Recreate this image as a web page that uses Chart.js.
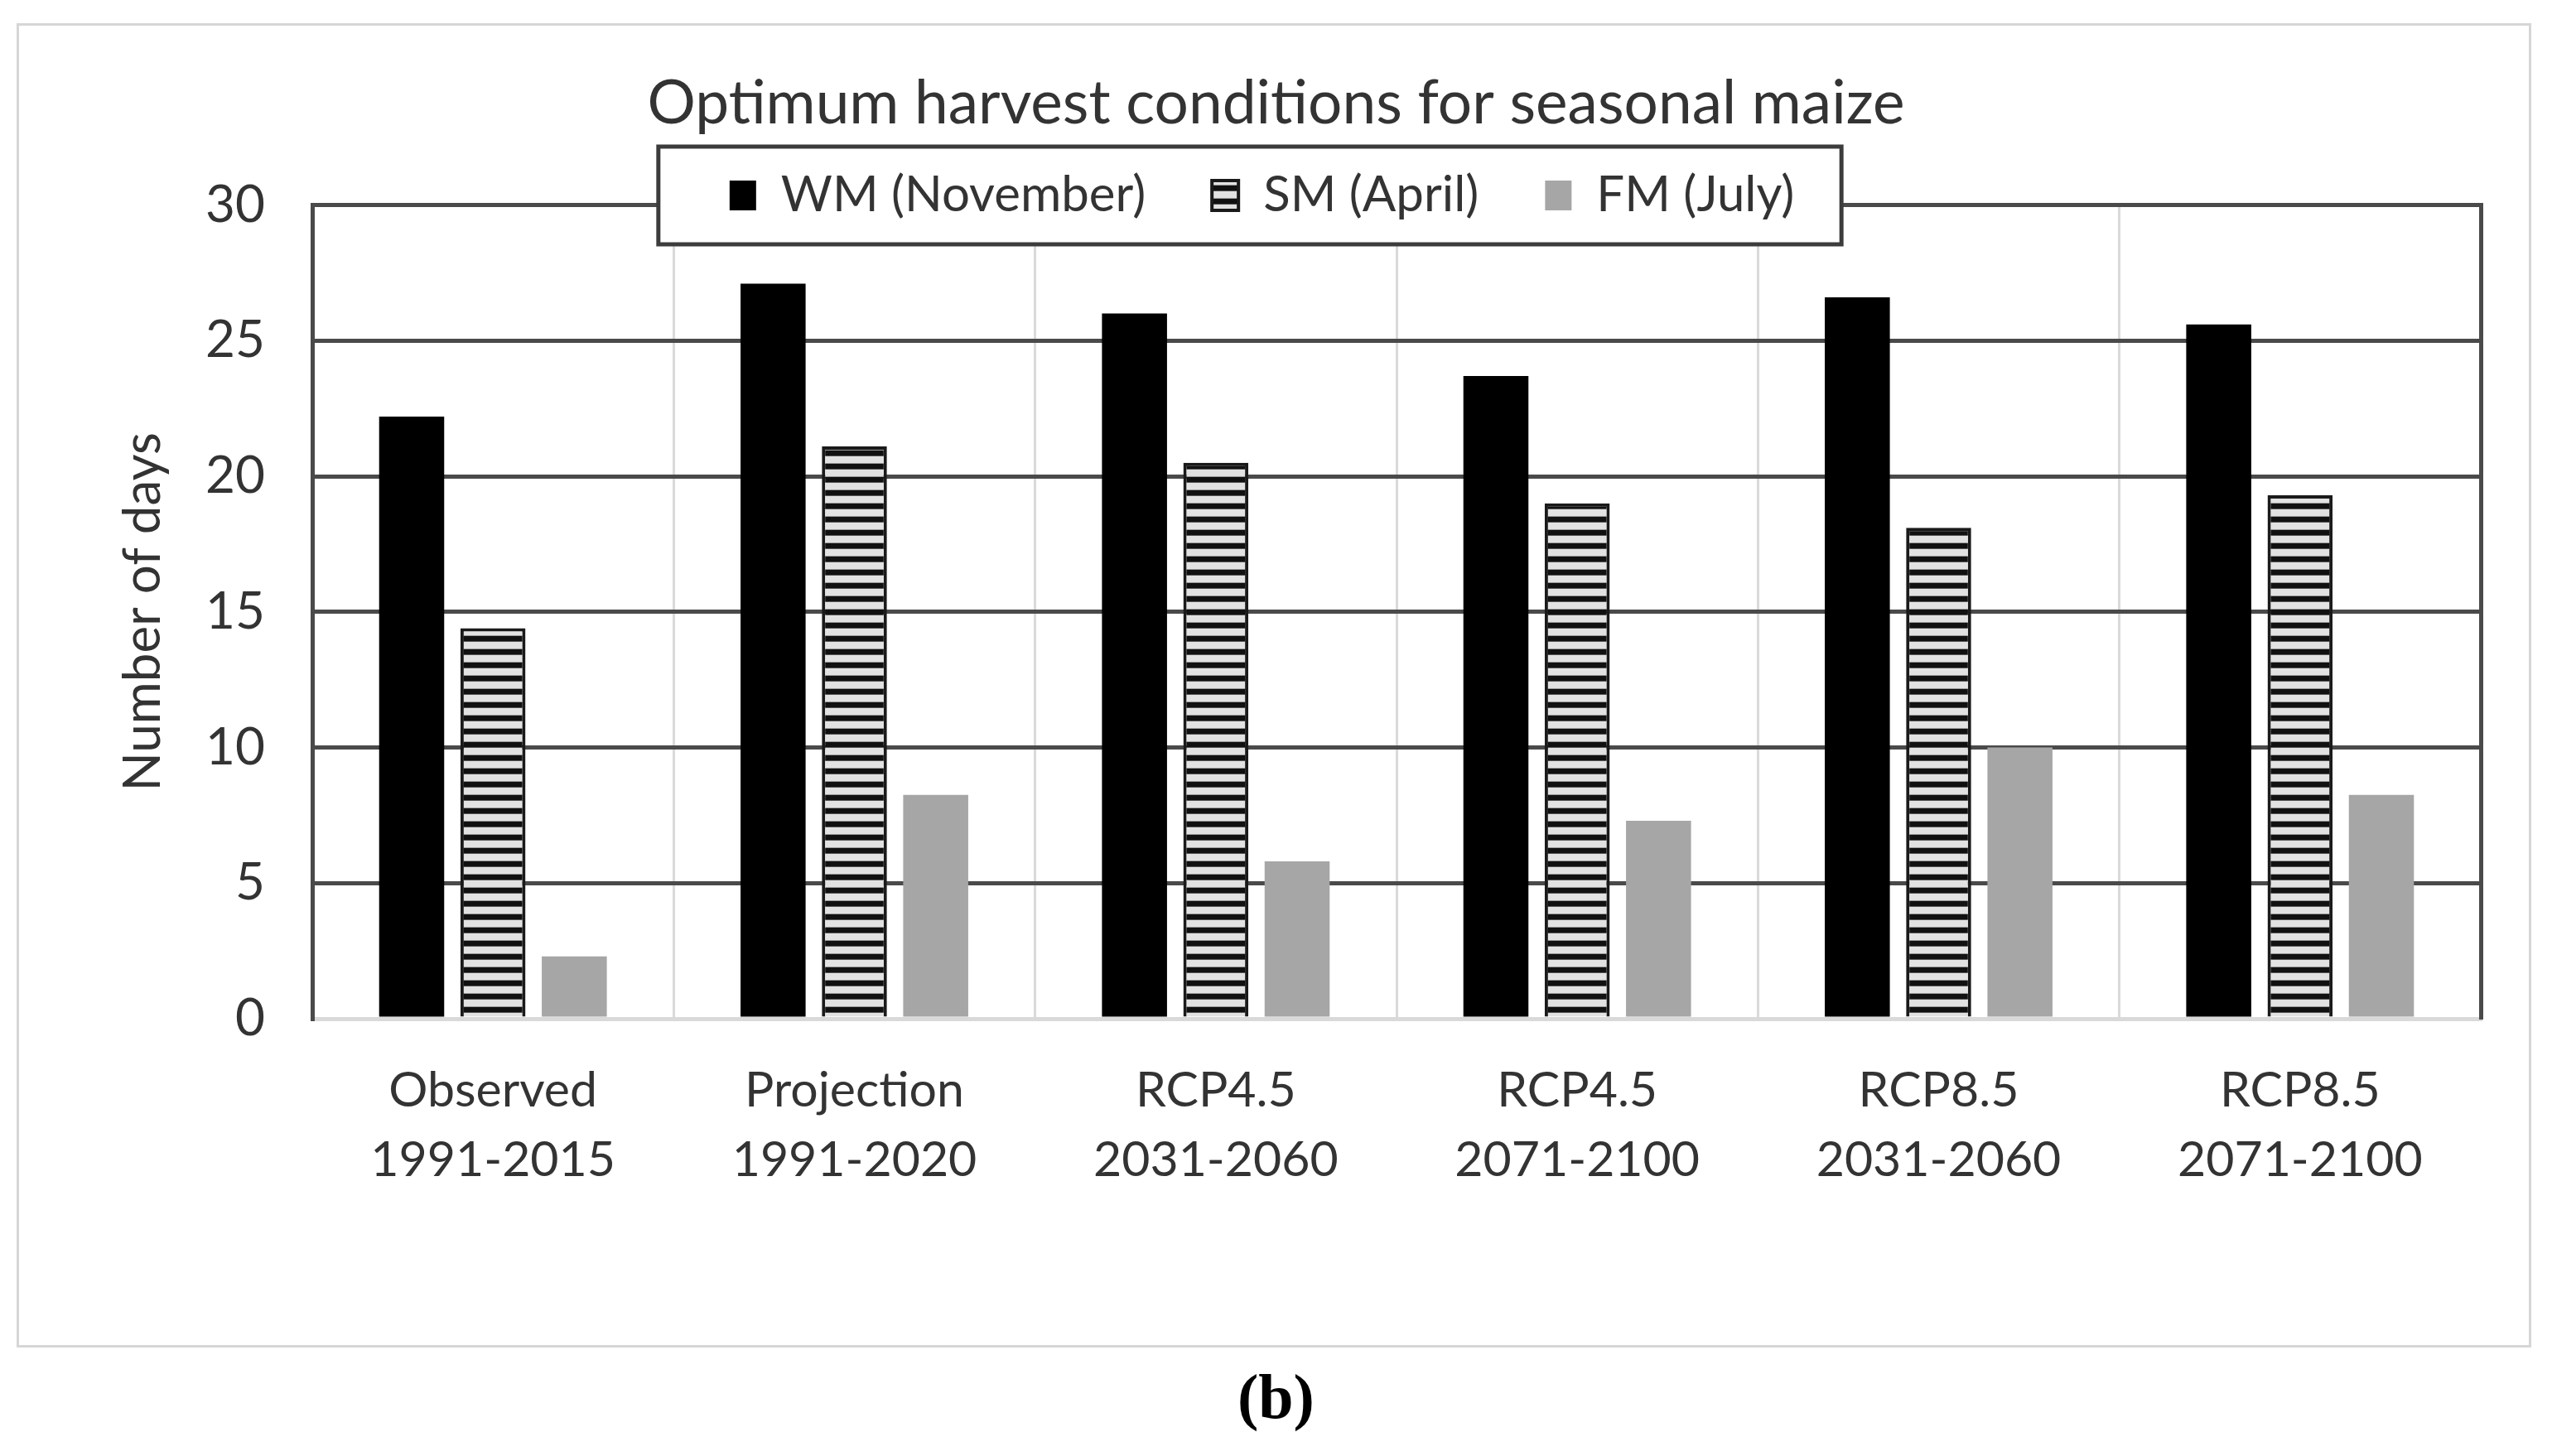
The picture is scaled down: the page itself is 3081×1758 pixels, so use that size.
<!DOCTYPE html>
<html>
<head>
<meta charset="utf-8">
<script src="https://cdn.jsdelivr.net/npm/chart.js@4.4.0/dist/chart.umd.min.js"></script>
<style>
html, body { margin: 0; padding: 0; background: #fff; }
body { width: 3081px; height: 1758px; position: relative; overflow: hidden; }
#frame { position: absolute; left: 20px; top: 28px; width: 3030px; height: 1593px; border: 3px solid #d6d6d6; }
#harvest_plot { position: absolute; left: 0; top: 0; width: 3081px; height: 1758px; }
#caption { position: absolute; left: 0; top: 1642px; width: 3081px; line-height: 88px; text-align: center;
           font-family: 'Liberation Serif', 'DejaVu Serif', serif; font-weight: bold; font-size: 76px; color: #000; }
</style>
</head>
<body>
<div id="frame"></div>
<canvas id="harvest_plot" width="3081" height="1758"></canvas>
<div id="caption">(b)</div>
<script>
const chartTitle = 'Optimum harvest conditions for seasonal maize';
const scenarios = ['Observed', 'Projection', 'RCP4.5', 'RCP4.5', 'RCP8.5', 'RCP8.5'];
const periods = ['1991-2015', '1991-2020', '2031-2060', '2071-2100', '2031-2060', '2071-2100'];
const seriesNames = ['WM (November)', 'SM (April)', 'FM (July)'];
const wmDays = [22.2, 27.1, 26.0, 23.7, 26.6, 25.6];
const smDays = [14.4, 21.1, 20.5, 19.0, 18.1, 19.3];
const fmDays = [2.3, 8.25, 5.8, 7.3, 10.0, 8.25];
const yAxisTitle = 'Number of days';

const fontFamily = 'Lato, "Open Sans", sans-serif';
const textColor = '#333333';
const legendMidY = 236;
const legendShiftX = -17;

const ctx = document.getElementById('harvest_plot').getContext('2d');

// horizontal stripes for the SM bars
function stripes() {
    const c = document.createElement('canvas');
    c.width = 8;
    c.height = 16;
    const g = c.getContext('2d');
    g.fillStyle = '#e2e2e2';
    g.fillRect(0, 0, 8, 16);
    g.fillStyle = '#111111';
    g.fillRect(0, 0, 8, 6);
    g.fillStyle = '#555555';
    g.fillRect(0, 6, 8, 1);
    g.fillStyle = '#9a9a9a';
    g.fillRect(0, 15, 8, 1);
    return ctx.createPattern(c, 'repeat');
}

// the legend sits in a white box over the top of the plot
const legendFrame = {
    id: 'legendFrame',
    afterLayout(chart) {
        const lg = chart.legend;
        const pad = chart.options.plugins.legend.labels.padding;
        const fs = chart.options.plugins.legend.labels.font.size;
        lg.top = legendMidY - pad - fs / 2;
        lg.bottom = legendMidY + fs / 2 + pad;
        lg.height = lg.bottom - lg.top;
        lg.left += legendShiftX;
        lg.right += legendShiftX;
        if (!lg._framed) {
            const drawItems = lg.draw.bind(lg);
            lg.draw = function () {
                const boxes = lg.legendHitBoxes;
                const first = boxes[0];
                const last = boxes[boxes.length - 1];
                const x0 = first.left - 86;
                const x1 = last.left + last.width + 57;
                const c = chart.ctx;
                c.save();
                c.fillStyle = '#ffffff';
                c.fillRect(x0, legendMidY - 59, x1 - x0, 118);
                c.strokeStyle = '#3c3c3c';
                c.lineWidth = 5;
                c.strokeRect(x0, legendMidY - 59, x1 - x0, 118);
                c.restore();
                drawItems();
            };
            lg._framed = true;
        }
    }
};

new Chart(ctx, {
    type: 'bar',
    data: {
        labels: scenarios.map((s, i) => [s, periods[i]]),
        datasets: [{
            label: seriesNames[0],
            data: wmDays,
            backgroundColor: '#000000',
            borderWidth: 0
        }, {
            label: seriesNames[1],
            data: smDays,
            backgroundColor: stripes(),
            borderColor: '#1a1a1a',
            borderWidth: 4
        }, {
            label: seriesNames[2],
            data: fmDays,
            backgroundColor: '#a6a6a6',
            borderWidth: 0
        }]
    },
    options: {
        responsive: false,
        animation: false,
        devicePixelRatio: 1,
        layout: { padding: 0 },
        datasets: {
            bar: { categoryPercentage: 0.675, barPercentage: 0.8 }
        },
        plugins: {
            title: {
                display: true,
                text: chartTitle,
                font: { family: fontFamily, size: 73, weight: 'normal' },
                color: textColor,
                padding: { top: 82, bottom: 77 }
            },
            legend: {
                display: true,
                position: 'top',
                maxHeight: 1,
                labels: {
                    font: { family: fontFamily, size: 60 },
                    color: textColor,
                    boxWidth: 32,
                    boxHeight: 36,
                    padding: 80
                }
            },
            tooltip: { enabled: false }
        },
        scales: {
            x: {
                grid: { color: '#d9d9d9', lineWidth: 3, drawTicks: false },
                border: { color: '#d9d9d9', width: 5 },
                ticks: {
                    font: { family: fontFamily, size: 59, lineHeight: 1.42 },
                    color: textColor,
                    padding: 45,
                    maxRotation: 0
                },
                afterFit(scale) { scale.height = 528; }
            },
            y: {
                min: 0,
                max: 30,
                ticks: {
                    stepSize: 5,
                    font: { family: fontFamily, size: 62 },
                    color: textColor,
                    padding: 57
                },
                grid: {
                    color: c => c.tick && c.tick.value === 0 ? 'rgba(0,0,0,0)' : '#4a4a4a',
                    lineWidth: 5,
                    drawTicks: false
                },
                border: { color: '#4a4a4a', width: 5 },
                title: {
                    display: true,
                    text: yAxisTitle,
                    font: { family: fontFamily, size: 62 },
                    color: textColor,
                    padding: { top: 136, bottom: 0 }
                },
                afterFit(scale) { scale.width = 377; }
            },
            yRight: {
                position: 'right',
                min: 0,
                max: 30,
                ticks: { display: false },
                grid: { display: false, drawTicks: false },
                border: { color: '#4a4a4a', width: 5 },
                afterFit(scale) { scale.width = 86; }
            }
        }
    },
    plugins: [legendFrame]
});
</script>
</body>
</html>
